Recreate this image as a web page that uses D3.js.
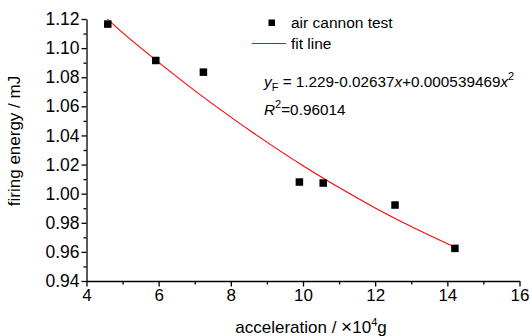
<!DOCTYPE html>
<html><head><meta charset="utf-8">
<script src="https://cdn.jsdelivr.net/npm/d3@7"></script>
<style>
body{margin:0;background:#fff;}
svg{font-family:"Liberation Sans",Arial,sans-serif;}
</style></head>
<body><svg id="c" width="530" height="336"></svg>
<script>
const testX = [4.59, 5.92, 7.24, 9.90, 10.56, 12.55, 14.21];
const testY = [1.1165, 1.0915, 1.0835, 1.0080, 1.0073, 0.9922, 0.9624];
const fitX = [4.58, 5, 6, 7, 8, 9, 10, 11, 12, 13, 14.2];
const fitY = [1.1200, 1.1106, 1.0902, 1.0708, 1.0526, 1.0354, 1.0192, 1.0042, 0.9902, 0.9774, 0.9633];
const xMajor = [4, 6, 8, 10, 12, 14, 16];
const xMinor = [5, 7, 9, 11, 13, 15];
const yMajor = [0.94, 0.96, 0.98, 1.00, 1.02, 1.04, 1.06, 1.08, 1.10, 1.12];
const yMinor = [0.95, 0.97, 0.99, 1.01, 1.03, 1.05, 1.07, 1.09, 1.11];

const svg = d3.select("#c");
const x = d3.scaleLinear().domain([4, 16]).range([86.5, 519.5]);
const y = d3.scaleLinear().domain([0.94, 1.12]).range([281, 19]);

function styleAxis(g){
  g.selectAll("path,line").attr("stroke","#000").attr("stroke-width",1.3);
  g.selectAll("text").attr("fill","#000").style("font-size","17px").attr("font-family","Liberation Sans, Arial, sans-serif");
}
// minor ticks
svg.append("g").attr("transform",`translate(0,${y(0.94)})`)
  .call(d3.axisBottom(x).tickValues(xMinor).tickSize(3.5).tickFormat("").tickSizeOuter(0))
  .call(g=>{g.select(".domain").remove(); styleAxis(g);});
svg.append("g").attr("transform",`translate(${x(4)},0)`)
  .call(d3.axisLeft(y).tickValues(yMinor).tickSize(3).tickFormat("").tickSizeOuter(0))
  .call(g=>{g.select(".domain").remove(); styleAxis(g);});
// major
svg.append("g").attr("transform",`translate(0,${y(0.94)})`)
  .call(d3.axisBottom(x).tickValues(xMajor).tickSize(5.5).tickPadding(2.5).tickFormat(d3.format("d")).tickSizeOuter(0))
  .call(styleAxis);
svg.append("g").attr("transform",`translate(${x(4)},0)`)
  .call(d3.axisLeft(y).tickValues(yMajor).tickSize(5).tickPadding(2).tickFormat(d3.format(".2f")).tickSizeOuter(0))
  .call(g=>{styleAxis(g); g.selectAll("text").style("font-size","17.5px");});

// fit line
svg.append("path").datum(fitX.map((v,i)=>[v,fitY[i]]))
  .attr("fill","none").attr("stroke","#ff0000").attr("stroke-width",1.1)
  .attr("d", d3.line().x(d=>x(d[0])).y(d=>y(d[1])).curve(d3.curveMonotoneX));

// points
const s = 7.5;
svg.append("g").selectAll("rect").data(testX.map((v,i)=>[v,testY[i]])).join("rect")
  .attr("x",d=>x(d[0])-s/2).attr("y",d=>y(d[1])-s/2).attr("width",s).attr("height",s).attr("fill","#000");

// axis titles
svg.append("text").attr("x", 311).attr("y", 333).attr("text-anchor","middle")
  .style("font-size","17px").attr("fill","#000")
  .call(t=>{
    t.append("tspan").text("acceleration / ");
    t.append("tspan").style("font-size","19px").text("×");
    t.append("tspan").text("10");
    t.append("tspan").attr("dy",-7).style("font-size","11px").text("4");
    t.append("tspan").attr("dy",7).text("g");
  });
svg.append("text").attr("transform","translate(20,141) rotate(-90)").attr("text-anchor","middle")
  .style("font-size","17px").attr("fill","#000").text("firing energy / mJ");

// legend
svg.append("rect").attr("x",271.5-3).attr("y",22.5-3).attr("width",6.5).attr("height",6.5).attr("fill","#000");
svg.append("text").attr("x",291).attr("y",28).style("font-size","15.5px").attr("fill","#000").text("air cannon test");
svg.append("line").attr("x1",252).attr("x2",286).attr("y1",43.5).attr("y2",43.5).attr("stroke","#ff0000").attr("stroke-width",1.1);
svg.append("text").attr("x",291).attr("y",49).style("font-size","15.5px").attr("fill","#000").text("fit line");

// equation
svg.append("text").attr("x",264).attr("y",87).style("font-size","15.3px").attr("fill","#000")
  .call(t=>{
    t.append("tspan").style("font-style","italic").text("y");
    t.append("tspan").attr("dy",4).style("font-size","11px").text("F");
    t.append("tspan").attr("dy",-4).text(" = 1.229-0.02637");
    t.append("tspan").style("font-style","italic").text("x");
    t.append("tspan").text("+0.000539469");
    t.append("tspan").style("font-style","italic").text("x");
    t.append("tspan").attr("dy",-7).style("font-size","11px").text("2");
  });
svg.append("text").attr("x",264).attr("y",115).style("font-size","15.3px").attr("fill","#000")
  .call(t=>{
    t.append("tspan").style("font-style","italic").text("R");
    t.append("tspan").attr("dy",-7).style("font-size","11px").text("2");
    t.append("tspan").attr("dy",7).text("=0.96014");
  });
</script></body></html>
